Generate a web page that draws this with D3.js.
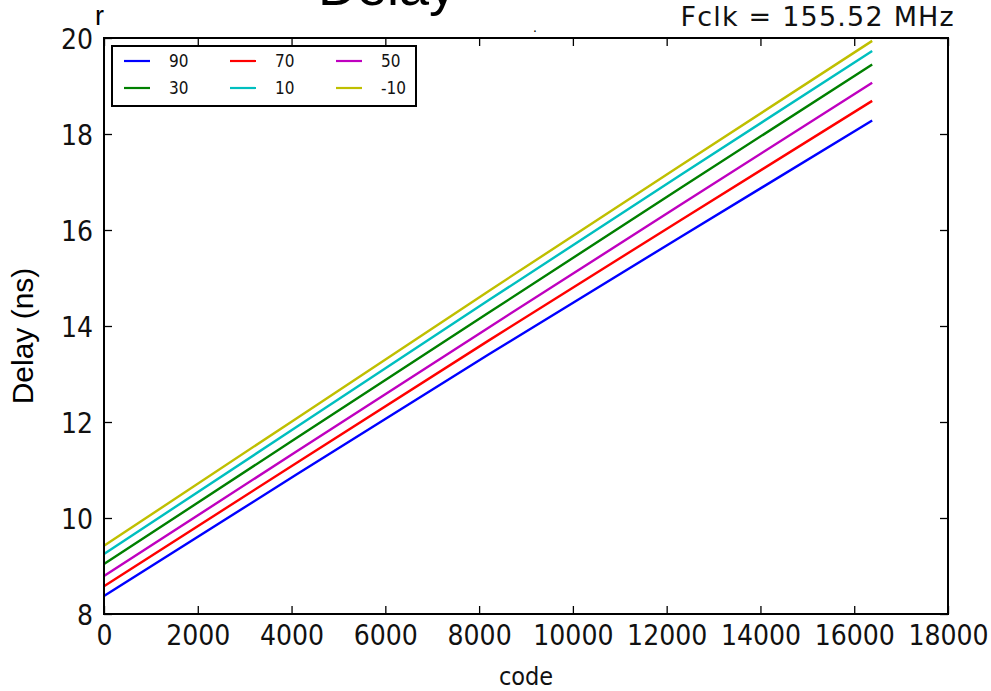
<!DOCTYPE html>
<html><head><meta charset="utf-8">
<script src="https://cdn.jsdelivr.net/npm/d3@7"></script>
<style>body{margin:0;background:#fff}svg{display:block}</style>
</head><body>
<svg id="c" width="991" height="691"></svg>
<script>
const codes = [0, 4096, 8192, 12288, 16383];
const seriesNames = ["90", "70", "50", "30", "10", "-10"];
const colors = ["#0000ff", "#ff0000", "#bf00bf", "#008000", "#00bfbf", "#bfbf00"];
const s90  = [8.375, 10.90, 13.40, 15.85, 18.28];
const s70  = [8.58, 11.14, 13.69, 16.20, 18.69];
const s50  = [8.79, 11.38, 13.96, 16.52, 19.07];
const s30  = [9.04, 11.66, 14.27, 16.87, 19.45];
const s10  = [9.25, 11.89, 14.53, 17.14, 19.73];
const sm10 = [9.42, 12.07, 14.72, 17.34, 19.94];
const seriesValues = [s90, s70, s50, s30, s10, sm10];
const xTicks = [0,2000,4000,6000,8000,10000,12000,14000,16000,18000];
const yTicks = [8,10,12,14,16,18,20];

const svg = d3.select("#c");
const L=104, R=948, T=38, B=614;
const x = d3.scaleLinear().domain([0,18000]).range([L,R]);
const y = d3.scaleLinear().domain([8,20]).range([B,T]);

// lines
const line = d3.line().x((d,i)=>x(codes[i])).y(d=>y(d));
seriesValues.forEach((vals,k)=>{
  svg.append("path").datum(vals).attr("d",line)
    .attr("fill","none").attr("stroke",colors[k]).attr("stroke-width",2.4);
});

// axes with inward ticks
const tickFont = "DejaVu Sans Condensed, DejaVu Sans, sans-serif";
const bx = svg.append("g").attr("transform",`translate(0,${B})`)
  .call(d3.axisBottom(x).tickValues(xTicks).tickSize(-8).tickPadding(11).tickFormat(d3.format("d")));
const tx = svg.append("g").attr("transform",`translate(0,${T})`)
  .call(d3.axisTop(x).tickValues(xTicks).tickSize(-8).tickFormat(""));
const ly = svg.append("g").attr("transform",`translate(${L},0)`)
  .call(d3.axisLeft(y).tickValues(yTicks).tickSize(-8).tickPadding(11));
const ry = svg.append("g").attr("transform",`translate(${R},0)`)
  .call(d3.axisRight(y).tickValues(yTicks).tickSize(-8).tickFormat(""));
[bx,tx,ly,ry].forEach(g=>{
  g.select(".domain").remove();
  g.selectAll(".tick line").attr("stroke","#000").attr("stroke-width",1.3);
  g.selectAll(".tick text").attr("font-family",tickFont).attr("font-size",28).attr("fill","#111");
});
ly.selectAll(".tick text").attr("dy","0.36em");
svg.append("rect").attr("x",L).attr("y",T).attr("width",R-L).attr("height",B-T)
  .attr("fill","none").attr("stroke","#000").attr("stroke-width",2);

// labels
svg.append("text").attr("x",526).attr("y",685).attr("text-anchor","middle")
  .attr("font-family",tickFont).attr("font-size",25).attr("fill","#111").text("code");
svg.append("text").attr("transform","translate(33,336) rotate(-90)").attr("text-anchor","middle")
  .attr("font-family","Liberation Sans, Arial, sans-serif").attr("font-size",30).attr("fill","#000").text("Delay (ns)");
svg.append("text").attr("x",955).attr("y",26).attr("text-anchor","end")
  .attr("font-family","DejaVu Sans, sans-serif").attr("font-size",27).attr("letter-spacing",1.2)
  .attr("fill","#111").text("Fclk = 155.52 MHz");
svg.append("text").attr("x",318).attr("y",5)
  .attr("font-family","Liberation Sans, Arial, sans-serif").attr("font-size",54).attr("fill","#000").text("Delay");
svg.append("text").attr("x",95).attr("y",25)
  .attr("font-family","Liberation Sans, Arial, sans-serif").attr("font-size",27).attr("fill","#000").text("r");
svg.append("text").attr("x",533).attr("y",32)
  .attr("font-family","Liberation Sans, Arial, sans-serif").attr("font-size",14).attr("fill","#000").text(".");

// legend
const lg = svg.append("g");
lg.append("rect").attr("x",112).attr("y",46).attr("width",304).attr("height",60)
  .attr("fill","#fff").attr("stroke","#000").attr("stroke-width",2);
seriesNames.forEach((n,k)=>{
  const col=k%3, row=Math.floor(k/3);
  const lx=124+col*106, lyy=61+row*27;
  lg.append("line").attr("x1",lx).attr("x2",lx+26).attr("y1",lyy).attr("y2",lyy)
    .attr("stroke",colors[k]).attr("stroke-width",2.2);
  lg.append("text").attr("x",lx+45).attr("y",lyy).attr("dy","0.36em")
    .attr("font-family",tickFont).attr("font-size",17).attr("fill","#111").text(n);
});
</script>
</body></html>
